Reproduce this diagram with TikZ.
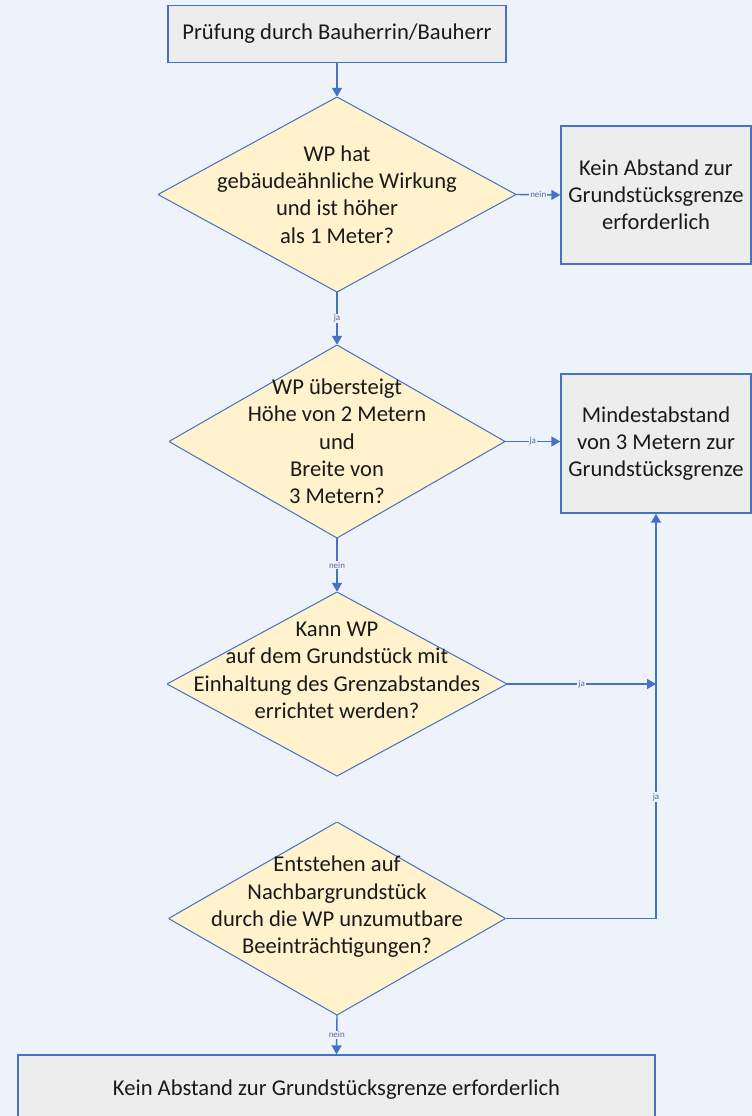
\documentclass[tikz,border=0pt]{standalone}
\usepackage{fontspec}
\setmainfont{Carlito}
\usetikzlibrary{arrows.meta}
\definecolor{bg}{HTML}{EEF2FA}
\definecolor{bord}{HTML}{4472C4}
\definecolor{boxfill}{HTML}{EDEDED}
\definecolor{diafill}{HTML}{FFF2CC}
\definecolor{txt}{HTML}{1A1A1A}
\definecolor{lblc}{HTML}{5A6A9A}
\begin{document}
\begin{tikzpicture}[x=1pt,y=-1pt,
  procbox/.style={draw=bord, fill=boxfill, line width=1.4pt, inner sep=0pt, align=center, text=txt, font=\fontsize{22.6}{26.8}\selectfont},
  decision/.style={inner sep=0pt, align=center, text=txt, font=\fontsize{22.6}{27.3}\selectfont,
    path picture={\draw[draw=bord, fill=diafill, line width=1pt] (path picture bounding box.north) -- (path picture bounding box.east) -- (path picture bounding box.south) -- (path picture bounding box.west) -- cycle;}},
  conn/.style={draw=bord, line width=1.4pt, -{Triangle[width=10pt,length=9pt]}},
  lbl/.style={fill=bg, inner sep=1pt, text=lblc, font=\fontsize{9}{10}\selectfont}]
\useasboundingbox (0,0) rectangle (752,1116);
\fill[bg] (0,0) rectangle (752,1116);
\node[procbox, minimum width=338, minimum height=57] (start) at (337,34) {Prüfung durch Bauherrin/Bauherr};
\node[decision, minimum width=358, minimum height=195] (d1) at (337,194.5) {WP hat\\gebäudeähnliche Wirkung\\und ist höher\\als 1 Meter?};
\node[procbox, minimum width=190, minimum height=138] (k1) at (656,195) {Kein Abstand zur\\Grundstücksgrenze\\erforderlich};
\node[decision, minimum width=336, minimum height=193] (d2) at (337,441.5) {WP übersteigt\\Höhe von 2 Metern\\und\\Breite von\\3 Metern?};
\node[procbox, minimum width=190, minimum height=139] (m) at (656,443.5) {Mindestabstand\\von 3 Metern zur\\Grundstücksgrenze};
\node[decision, minimum width=340, minimum height=184] (d3) at (337,684) {Kann WP\\auf dem Grundstück mit\\Einhaltung des Grenzabstandes\\errichtet werden?\\\mbox{}};
\node[decision, minimum width=337, minimum height=193] (d4) at (337,918.5) {Entstehen auf\\Nachbargrundstück\\durch die WP unzumutbare\\Beeinträchtigungen?\\\mbox{}};
\node[procbox, minimum width=637, minimum height=70] (end) at (336.5,1090) {Kein Abstand zur Grundstücksgrenze erforderlich};
\coordinate (j) at (m.south |- d3.east);
\draw[conn] (start) -- (d1);
\draw[conn] (d1.east) -- node[lbl]{nein} (k1.west);
\draw[conn] (d1.south) -- node[lbl]{ja} (d2.north);
\draw[conn] (d2.east) -- node[lbl]{ja} (d2.east -| m.west);
\draw[conn] (d2.south) -- node[lbl]{nein} (d3.north);
\draw[conn] (d3.east) -- node[lbl]{ja} (j);
\draw[conn] (d4.east) -| node[lbl, pos=0.65]{ja} (m.south);
\draw[conn] (d4.south) -- node[lbl]{nein} (end.north);
\end{tikzpicture}
\end{document}
